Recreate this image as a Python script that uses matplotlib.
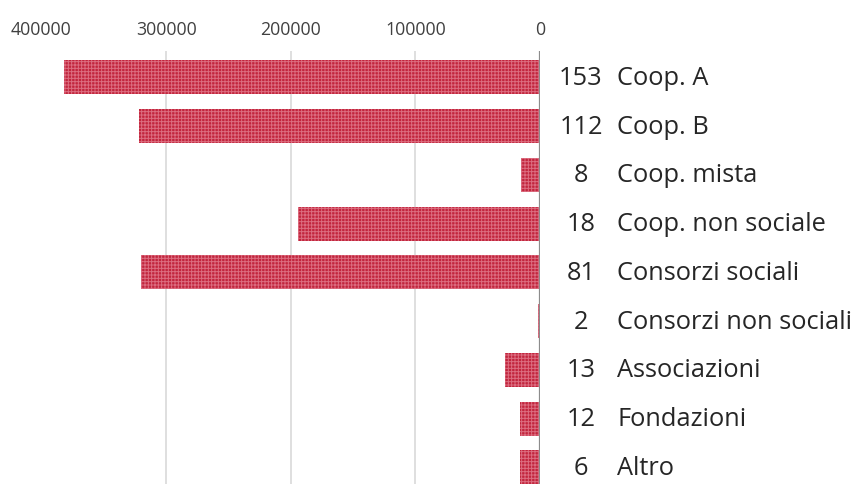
import matplotlib
matplotlib.use('Agg')
import matplotlib.pyplot as plt

categories = ['Coop. A', 'Coop. B', 'Coop. mista', 'Coop. non sociale', 'Consorzi sociali',
              'Consorzi non sociali', 'Associazioni', 'Fondazioni', 'Altro']
counts = [153, 112, 8, 18, 81, 2, 13, 12, 6]
values = [382000, 322000, 15000, 194000, 320000, 2000, 28000, 16000, 16000]
xticks = [0, 100000, 200000, 300000, 400000]

plt.rcParams['font.family'] = ['Open Sans', 'DejaVu Sans']
plt.rcParams['hatch.linewidth'] = 0.7

fig = plt.figure(figsize=(8.67, 4.85), dpi=100)
W, H = 867, 485
# axes: x from 41.5px (400000) to 540px (0); y from 52px to 485px
ax = fig.add_axes([41.5 / W, 0, (540 - 41.5) / W, (485 - 52) / H])

y = list(range(len(categories)))
ax.barh(y, values, height=0.70, color='#c2253d', edgecolor='#dc6d80',
        linewidth=0, hatch='+++++', zorder=2)

ax.set_xlim(400000, 0)
ax.set_ylim(8.34, -0.54)
ax.set_xticks(xticks)
ax.set_xticklabels([str(v) for v in xticks])
ax.xaxis.tick_top()
ax.tick_params(axis='x', length=0, pad=9, labelsize=12.8, labelcolor='#404040')
ax.set_yticks([])
ax.grid(axis='x', color='#d9d9d9', linewidth=1.2, zorder=0)
ax.axvline(0, color='#8c8c8c', linewidth=1.6, zorder=3)
for s in ax.spines.values():
    s.set_visible(False)

px = 400000 / (540 - 41.5)
for yi, c, name in zip(y, counts, categories):
    ax.text(-(581 - 540) * px, yi, str(c), ha='center', va='center',
            fontsize=18.3, color='#262626', clip_on=False)
    ax.text(-(617 - 540) * px, yi, name, ha='left', va='center',
            fontsize=18.3, color='#262626', clip_on=False)

fig.savefig('out.png', dpi=100)
